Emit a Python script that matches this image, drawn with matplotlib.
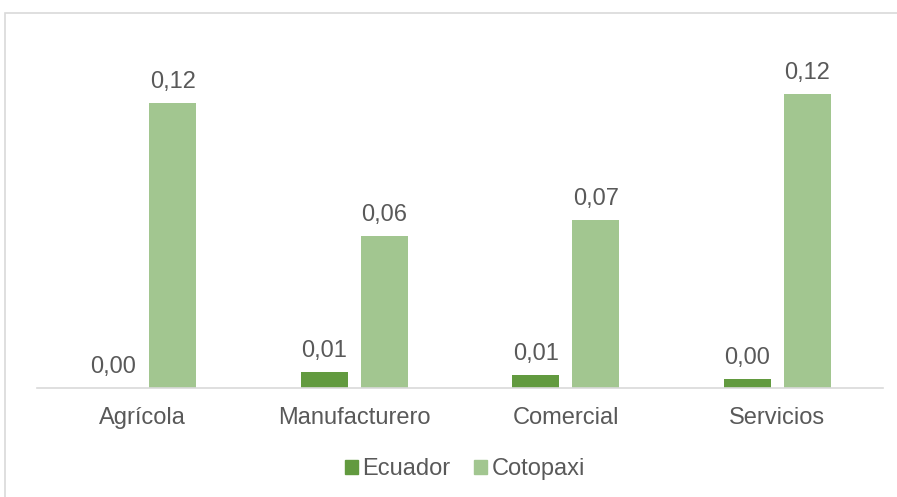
import matplotlib.pyplot as plt
from matplotlib.patches import Rectangle, Patch
import numpy as np

sectores = ['Agrícola', 'Manufacturero', 'Comercial', 'Servicios']
ecuador = [0.0002, 0.0067, 0.0055, 0.0038]
cotopaxi = [0.1202, 0.0641, 0.0709, 0.1240]

COLOR_EC = '#629A3F'
COLOR_CO = '#A2C690'
GRIS = '#595959'

plt.rcParams['font.family'] = ['Liberation Sans', 'DejaVu Sans']

fig = plt.figure(figsize=(8.97, 4.97), dpi=100)
W, H = 897, 497
ax = fig.add_axes([37 / W, 1 - 388 / H, (883 - 37) / W, (388 - 45) / H])

x = np.arange(len(sectores))
ancho = 0.222
off = 0.142
b1 = ax.bar(x - off, ecuador, ancho, color=COLOR_EC)
b2 = ax.bar(x + off, cotopaxi, ancho, color=COLOR_CO)

# etiquetas de valor con coma decimal
for barras in (b1, b2):
    for b in barras:
        v = b.get_height()
        ax.annotate(f'{v:.2f}'.replace('.', ','),
                    (b.get_x() + b.get_width() / 2, v),
                    xytext=(0, 15), textcoords='offset points',
                    ha='center', va='center', fontsize=17, color=GRIS)

ax.set_xlim(-0.5, len(sectores) - 0.5)
ax.set_ylim(0, 0.1447)
ax.set_xticks(x)
ax.set_xticklabels(sectores, fontsize=17, color=GRIS)
ax.tick_params(axis='x', length=0, pad=14)
ax.set_yticks([])
for s in ['top', 'right', 'left']:
    ax.spines[s].set_visible(False)
ax.spines['bottom'].set_color('#D9D9D9')
ax.spines['bottom'].set_linewidth(1.2)

# marco del gráfico
fig.patches.append(Rectangle((5 / W, -0.5), 1.2, 1 - 13 / H + 0.5,
                             transform=fig.transFigure, fill=False,
                             edgecolor='#D9D9D9', linewidth=1.2))

handles = [Patch(color=COLOR_EC, label='Ecuador'),
           Patch(color=COLOR_CO, label='Cotopaxi')]
fig.legend(handles=handles, loc='center', bbox_to_anchor=(465 / W, 1 - 469 / H),
           ncol=2, frameon=False, fontsize=17, labelcolor=GRIS,
           handlelength=0.55, handleheight=0.55, handletextpad=0.2,
           columnspacing=1.0, borderpad=0)

fig.savefig('out.png', dpi=100)
